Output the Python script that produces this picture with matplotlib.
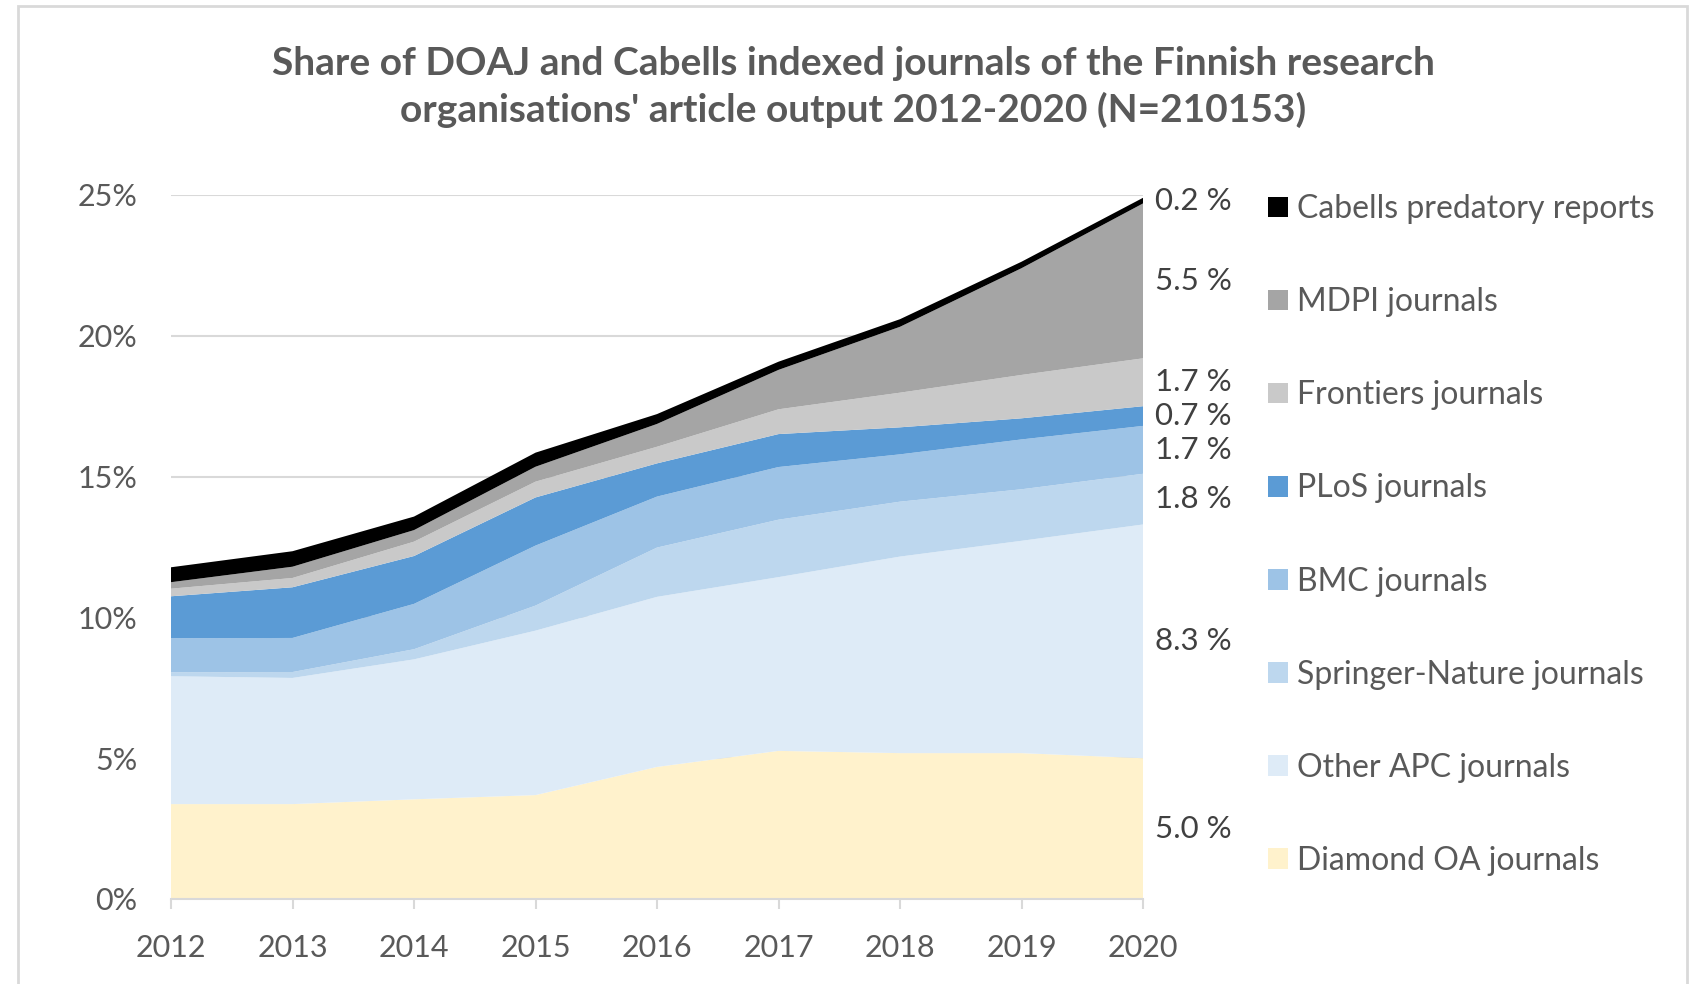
import numpy as np
import matplotlib.pyplot as plt
from matplotlib.patches import Rectangle

plt.rcParams['font.family'] = ['Lato', 'DejaVu Sans']

years = [2012, 2013, 2014, 2015, 2016, 2017, 2018, 2019, 2020]

# shares in % of all articles, bottom layer first
diamond = [3.37, 3.37, 3.54, 3.69, 4.69, 5.26, 5.18, 5.18, 5.0]
other_apc = [4.54, 4.48, 4.97, 5.84, 6.04, 6.17, 6.98, 7.54, 8.3]
springer = [0.14, 0.21, 0.36, 0.89, 1.75, 2.04, 1.95, 1.83, 1.8]
bmc = [1.21, 1.21, 1.61, 2.13, 1.81, 1.87, 1.68, 1.77, 1.7]
plos = [1.49, 1.80, 1.70, 1.71, 1.18, 1.17, 0.96, 0.75, 0.7]
frontiers = [0.27, 0.33, 0.51, 0.56, 0.59, 0.88, 1.23, 1.54, 1.7]
mdpi = [0.23, 0.40, 0.41, 0.53, 0.81, 1.40, 2.34, 3.79, 5.5]
cabells = [0.53, 0.55, 0.48, 0.50, 0.35, 0.29, 0.27, 0.23, 0.2]

names = ["Diamond OA journals", "Other APC journals", "Springer-Nature journals",
         "BMC journals", "PLoS journals", "Frontiers journals", "MDPI journals",
         "Cabells predatory reports"]
colors = ["#FFF2CC", "#DEEBF7", "#BDD7EE", "#9DC3E6", "#5B9BD5", "#C9C9C9", "#A5A5A5", "#000000"]
series = [diamond, other_apc, springer, bmc, plos, frontiers, mdpi, cabells]

fig = plt.figure(figsize=(16.94, 9.84), dpi=100)
ax = fig.add_axes([171/1694, 85/984, 972/1694, 704/984])

polys = ax.stackplot(years, *series, colors=colors, labels=names, linewidth=0)

ax.set_xlim(2012, 2020)
ax.set_ylim(0, 25)
ax.set_xticks(years)
ax.set_yticks([0, 5, 10, 15, 20, 25])
ax.set_yticklabels([f"{t}%" for t in [0, 5, 10, 15, 20, 25]])
ax.yaxis.grid(True, color="#D9D9D9", lw=1.5)
ax.set_axisbelow(True)
for s in ["top", "right", "left"]:
    ax.spines[s].set_visible(False)
ax.spines["bottom"].set_color("#D9D9D9")
ax.spines["bottom"].set_linewidth(1.5)
ax.spines["bottom"].set_zorder(5)
ax.tick_params(axis="x", length=7, width=1.5, color="#D9D9D9", labelsize=22,
               labelcolor="#595959", pad=18)
ax.tick_params(axis="y", length=0, labelsize=22, labelcolor="#595959", pad=24)

# value labels for 2020, centred on each layer
last = np.array([s[-1] for s in series])
tops = np.cumsum(last)
mids = tops - last / 2
for v, m in zip(last, mids):
    ax.annotate(f"{v:.1f} %", xy=(years[-1], m), xytext=(12, 0),
                textcoords="offset pixels", va="center", ha="left",
                fontsize=22.5, color="#404040", annotation_clip=False)

handles, labels = ax.get_legend_handles_labels()
leg = fig.legend(handles[::-1], labels[::-1], loc="center left",
                 bbox_to_anchor=(1268/1694, 1 - 535/984), frameon=False,
                 fontsize=23, labelspacing=1.975, handlelength=0.62,
                 handleheight=0.62, handletextpad=0.3, borderpad=0, borderaxespad=0)
for t in leg.get_texts():
    t.set_color("#595959")

fig.text(853/1694, 1 - 87/984,
         "Share of DOAJ and Cabells indexed journals of the Finnish research\n"
         "organisations' article output 2012-2020 (N=210153)",
         ha="center", va="center", fontsize=28, fontweight="bold",
         color="#595959", linespacing=1.37)

fig.add_artist(Rectangle((18/1694, -0.02), 1669/1694, 1.02 - 6/984,
                         transform=fig.transFigure, fill=False,
                         edgecolor="#D9D9D9", lw=2))

fig.savefig("out.png", dpi=100)
